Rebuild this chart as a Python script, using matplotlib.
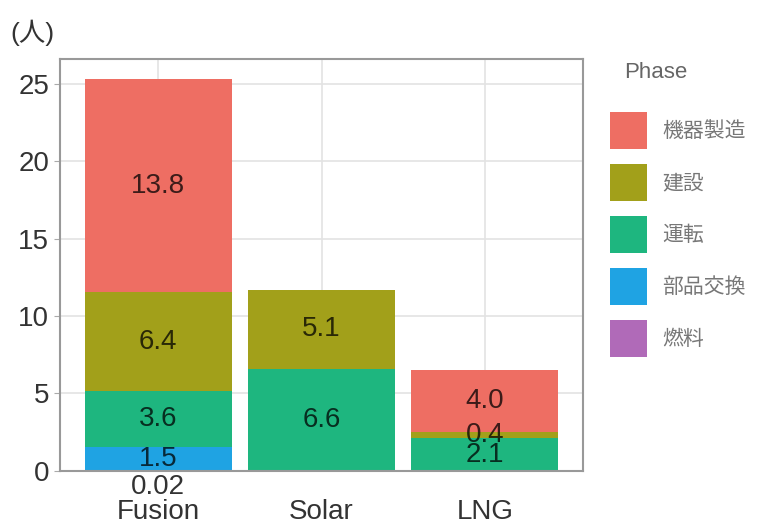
import matplotlib.pyplot as plt
from matplotlib.patches import Patch
import numpy as np

plt.rcParams['font.family'] = ['Liberation Sans', 'Noto Sans CJK JP', 'DejaVu Sans']

# Per-source workforce by life-cycle phase (人)
sources = ["Fusion", "Solar", "LNG"]
phases = ["機器製造", "建設", "運転", "部品交換", "燃料"]
colors = ["#EE6E63", "#A2A01A", "#1EB67F", "#1FA3E3", "#B06AB8"]

# stacking order from the bottom up
fuel = [0.02, 0.0, 0.0]
parts = [1.5, 0.0, 0.0]
operation = [3.6, 6.6, 2.1]
construction = [6.4, 5.1, 0.4]
manufacturing = [13.8, 0.0, 4.0]

stack = [("燃料", fuel), ("部品交換", parts), ("運転", operation),
         ("建設", construction), ("機器製造", manufacturing)]
color_of = dict(zip(phases, colors))

fig = plt.figure(figsize=(7.73, 5.26), dpi=100)
ax = fig.add_axes([0.078, 0.105, 0.676, 0.783])

x = np.arange(len(sources))
bottom = np.zeros(len(sources))
for name, vals in stack:
    vals = np.array(vals)
    ax.bar(x, vals, width=0.9, bottom=bottom, color=color_of[name],
           linewidth=0, zorder=2)
    for i, v in enumerate(vals):
        if v <= 0:
            continue
        if name == "燃料":
            # too thin to label inside, put it under the bar
            ax.text(x[i], -1.03, f"{v:.2f}", ha="center", va="center",
                    fontsize=20, color="#333333", clip_on=False)
        else:
            ax.text(x[i], bottom[i] + v / 2, f"{v:.1f}", ha="center",
                    va="center", fontsize=20, color="black", alpha=0.75,
                    zorder=3)
    bottom += vals

ax.set_xlim(-0.6, 2.6)
ax.set_ylim(0, 26.6)
ax.set_yticks([0, 5, 10, 15, 20, 25])
ax.set_xticks(x)
ax.set_xticklabels(sources)
ax.tick_params(axis="x", length=0, pad=20, labelsize=20, labelcolor="#333333")
ax.tick_params(axis="y", length=4, color="#aaaaaa", labelsize=20,
               labelcolor="#333333", pad=4)
ax.grid(True, color="#e3e3e3", linewidth=1.2, zorder=0)
ax.set_axisbelow(True)
for side in ax.spines.values():
    side.set_color("#999999")
    side.set_linewidth(1.5)

fig.text(0.014, 0.937, "(人)", fontsize=19, color="#333333", va="center")

# legend: title placed on its own, keys below it
fig.text(0.808, 0.863, "Phase", fontsize=16, color="#666666", va="center")
handles = [Patch(facecolor=c, edgecolor="none") for c in colors]
leg = fig.legend(handles, phases, loc="upper left",
                 bbox_to_anchor=(0.789, 0.787), frameon=False,
                 borderpad=0, borderaxespad=0,
                 handlelength=1.78, handleheight=2.36, labelspacing=0.72,
                 handletextpad=0.72, fontsize=15)
for t in leg.get_texts():
    t.set_color("#777777")

fig.savefig("out.png", dpi=100)
